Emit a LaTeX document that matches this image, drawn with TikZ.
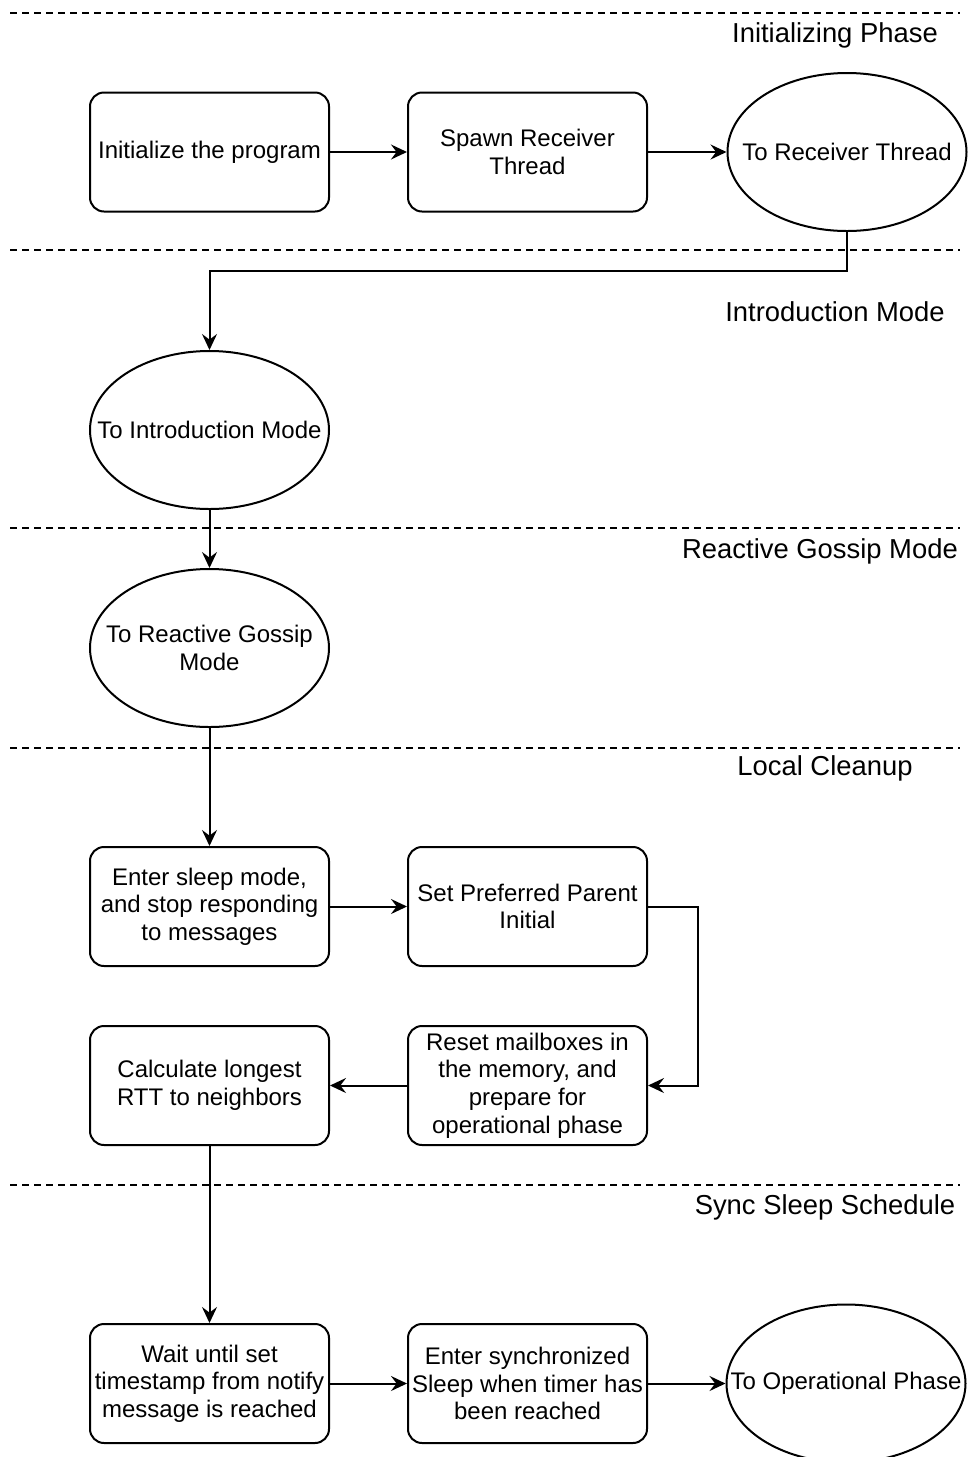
\documentclass[tikz,border=0pt]{standalone}
\usepackage{fontspec}
\setmainfont{Liberation Sans}
\usetikzlibrary{arrows.meta,shapes.geometric}
\begin{document}
\begin{tikzpicture}[x=0.5pt,y=-0.5pt,
  every node/.style={font=\fontsize{12pt}{13.8pt}\selectfont, align=center, text=black},
  box/.style={draw, rounded corners=7pt, line width=1pt, minimum width=119.5pt, minimum height=59.5pt, inner sep=0pt},
  oval/.style={draw, ellipse, line width=1pt, minimum width=119.5pt, minimum height=79pt, inner sep=0pt},
  flow/.style={line width=1pt, -{Stealth[length=8pt,width=7.5pt,inset=2.8pt]}},
  divider/.style={line width=1pt, dash pattern=on 3.5pt off 2.5pt},
  phase/.style={font=\fontsize{13.7pt}{16pt}\selectfont}]

% page
\fill[white] (0,0) rectangle (969,1457);
\useasboundingbox (0,0) rectangle (969,1457);

% phase separators
\foreach \yy in {13,250,528,748,1185}
  \draw[divider] (10,\yy) -- (960,\yy);

% phase titles
\node[phase] (tInit)  at (835,35)   {Initializing Phase};
\node[phase] (tIntro) at (835,312)  {Introduction Mode};
\node[phase] (tGoss)  at (820,551)  {Reactive Gossip Mode};
\node[phase] (tClean) at (825,768)  {Local Cleanup};
\node[phase] (tSync)  at (825,1207) {Sync Sleep Schedule};

% steps
\node[box] (init)  at (209.5,152) {Initialize the program};
\node[box] (spawn) at (527.5,152) {Spawn Receiver\\Thread};
\node[oval, label={center:To Receiver Thread}] (recv) at (847,152) {};

\node[oval, label={center:To Introduction Mode}] (intro) at (209.5,430) {};
\node[oval, label={center:{To Reactive Gossip\\Mode}}] (gossip) at (209.5,648) {};

\node[box] (sleep) at (209.5,906.5) {Enter sleep mode,\\and stop responding\\to messages};
\node[box] (pref)  at (527.5,906.5) {Set Preferred Parent\\Initial};
\node[box] (reset) at (527.5,1085.5) {Reset mailboxes in\\the memory, and\\prepare for\\operational phase};
\node[box] (calc)  at (209.5,1085.5) {Calculate longest\\RTT to neighbors};

\node[box] (wait) at (209.5,1383.5) {Wait until set\\timestamp from notify\\message is reached};
\node[box] (sync) at (527.5,1383.5) {Enter synchronized\\Sleep when timer has\\been reached};
\node[oval, label={center:To Operational Phase}] (oper) at (846,1383.5) {};

% connectors
\draw[flow] (init) -- (spawn);
\draw[flow] (spawn) -- (recv);
\draw[flow] (recv.south) -- ++(0,39) -| (intro.north);
\draw[flow] (intro) -- (gossip);
\draw[flow] (gossip) -- (sleep);
\draw[flow] (sleep) -- (pref);
\draw[flow] (pref.east) -- ++(50,0) |- (reset.east);
\draw[flow] (reset) -- (calc);
\draw[flow] (calc) -- (wait);
\draw[flow] (wait) -- (sync);
\draw[flow] (sync) -- (oper);
\end{tikzpicture}
\end{document}
